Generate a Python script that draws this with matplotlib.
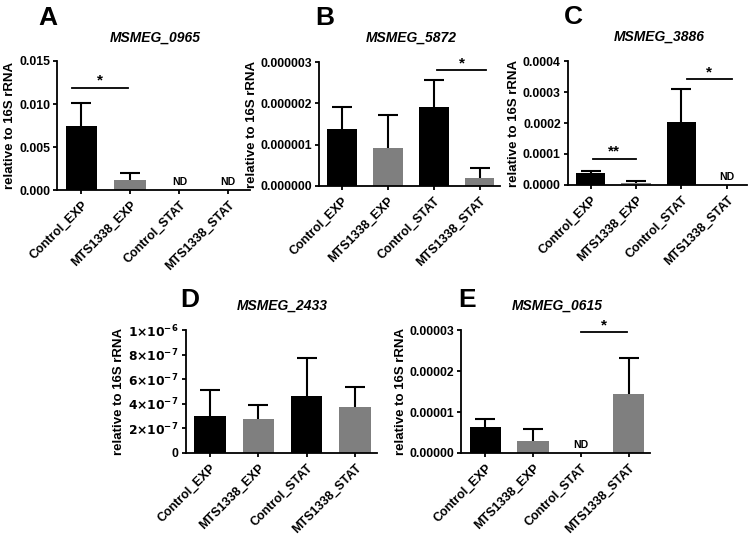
import numpy as np
import matplotlib.pyplot as plt
from matplotlib.ticker import FuncFormatter

plt.rcParams["font.family"] = "Liberation Sans"
plt.rcParams["font.weight"] = "bold"

groups = ["Control_EXP", "MTS1338_EXP", "Control_STAT", "MTS1338_STAT"]
colors = ["black", "#7f7f7f", "black", "#7f7f7f"]

# means and upper end of error bars, per gene (None = not detected)
a_mean = [0.0075, 0.0012, None, None]
a_top = [0.0101, 0.0020, None, None]
b_mean = [1.38e-6, 0.93e-6, 1.92e-6, 0.20e-6]
b_top = [1.92e-6, 1.73e-6, 2.57e-6, 0.43e-6]
c_mean = [0.000038, 0.000007, 0.000203, None]
c_top = [0.000045, 0.000012, 0.000310, None]
d_mean = [3.0e-7, 2.8e-7, 4.6e-7, 3.75e-7]
d_top = [5.15e-7, 3.9e-7, 7.75e-7, 5.35e-7]
e_mean = [0.63e-5, 0.29e-5, None, 1.44e-5]
e_top = [0.83e-5, 0.59e-5, None, 2.32e-5]

fig = plt.figure(figsize=(7.55, 5.36), dpi=100)


def sci_fmt(v, pos):
    if v == 0:
        return "0"
    exp = int(np.floor(np.log10(abs(v)) + 1e-9))
    m = v / 10 ** exp
    return r"$\mathbf{%d{\times}10^{%d}}$" % (round(m), exp)


def panel(rect, letter, title, means, tops, ymax, step, fmt, sigs, letter_xy, title_xy):
    ax = fig.add_axes(rect)
    x = np.arange(len(groups))
    for i in range(len(groups)):
        if means[i] is None:
            ax.text(i, ymax * 0.02, "ND", ha="center", va="bottom", fontsize=7.5, fontweight="bold")
            continue
        ax.bar(i, means[i], width=0.65, color=colors[i])
        eb = ax.errorbar(i, means[i], yerr=[[0], [tops[i] - means[i]]], fmt="none",
                         ecolor="black", elinewidth=1.5, capsize=7, capthick=1.5)
        eb[1][0].set_visible(False)  # hide the lower cap
    for x0, x1, y, s in sigs:
        ax.plot([x0, x1], [y, y], color="black", lw=1.3, clip_on=False)
        ax.text((x0 + x1) / 2, y, s, ha="center", va="bottom", fontsize=11, fontweight="bold")
    ax.set_xlim(-0.5, 3.45)
    ax.set_ylim(0, ymax)
    ax.set_yticks(np.arange(0, ymax + step / 2, step))
    ax.yaxis.set_major_formatter(FuncFormatter(fmt))
    ax.set_xticks(x)
    ax.set_xticklabels(groups, rotation=45, ha="right", rotation_mode="anchor",
                       fontsize=9, fontweight="bold")
    ax.tick_params(axis="y", labelsize=8.8, width=1.3, length=3, pad=2)
    ax.tick_params(axis="x", width=1.3, length=3)
    for sp in ["top", "right"]:
        ax.spines[sp].set_visible(False)
    for sp in ["left", "bottom"]:
        ax.spines[sp].set_linewidth(1.3)
    ax.set_ylabel("relative to 16S rRNA", fontsize=9.5, fontweight="bold", labelpad=2)
    fig.text(letter_xy[0] / 755, 1 - letter_xy[1] / 536, letter, fontsize=19,
             fontweight="bold", ha="center", va="center")
    fig.text(title_xy[0] / 755, 1 - title_xy[1] / 536, title, fontsize=10,
             fontweight="bold", style="italic", ha="center", va="center")
    return ax


panel([0.0755, 0.6455, 0.256, 0.2407], "A", "MSMEG_0965", a_mean, a_top, 0.015, 0.005,
      lambda v, p: "%.3f" % v, [(-0.2, 0.95, 0.0119, "*")], (48, 18), (155, 38))
panel([0.4225, 0.653, 0.240, 0.231], "B", "MSMEG_5872", b_mean, b_top, 3e-6, 1e-6,
      lambda v, p: "%.6f" % v, [(2.08, 3.15, 2.81e-6, "*")], (325, 18), (411, 38))
panel([0.752, 0.655, 0.238, 0.231], "C", "MSMEG_3886", c_mean, c_top, 0.0004, 0.0001,
      lambda v, p: "%.4f" % v, [(0.05, 1.0, 0.84e-4, "**"), (2.13, 3.1, 3.42e-4, "*")],
      (573, 17), (659, 37))
panel([0.246, 0.155, 0.253, 0.229], "D", "MSMEG_2433", d_mean, d_top, 1e-6, 2e-7,
      sci_fmt, [], (190, 300), (282, 306))
panel([0.611, 0.155, 0.250, 0.229], "E", "MSMEG_0615", e_mean, e_top, 3e-5, 1e-5,
      lambda v, p: "%.5f" % v, [(2.0, 2.97, 2.95e-5, "*")], (467, 300), (557, 306))

fig.savefig("out.png", dpi=100)
